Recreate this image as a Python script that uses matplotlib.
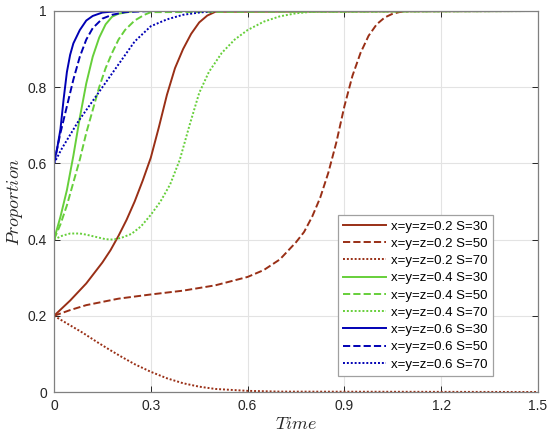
import matplotlib
matplotlib.use("Agg")
import matplotlib.pyplot as plt

plt.rcParams['font.family'] = ['Liberation Sans', 'DejaVu Sans']
plt.rcParams['mathtext.fontset'] = 'cm'

# ---- data ----
t_r30 = [0, 0.05, 0.1, 0.15, 0.175, 0.2, 0.225, 0.25, 0.275, 0.3, 0.325, 0.35,
         0.375, 0.4, 0.425, 0.45, 0.475, 0.5, 1.5]
p_r30 = [0.2, 0.24, 0.285, 0.34, 0.372, 0.41, 0.452, 0.50, 0.555, 0.615, 0.695,
         0.78, 0.85, 0.90, 0.94, 0.97, 0.988, 0.998, 1.0]

t_r50 = [0, 0.05, 0.1, 0.2, 0.3, 0.4, 0.5, 0.6, 0.65, 0.7, 0.75, 0.775, 0.8,
         0.825, 0.85, 0.875, 0.9, 0.925, 0.95, 0.975, 1.0, 1.025, 1.05, 1.075,
         1.1, 1.5]
p_r50 = [0.2, 0.215, 0.228, 0.245, 0.256, 0.266, 0.28, 0.302, 0.32, 0.348,
         0.393, 0.42, 0.46, 0.51, 0.575, 0.655, 0.75, 0.83, 0.89, 0.935, 0.965,
         0.983, 0.993, 0.998, 1.0, 1.0]

t_r70 = [0, 0.03, 0.06, 0.09, 0.13, 0.17, 0.21, 0.25, 0.3, 0.35, 0.4, 0.45,
         0.5, 0.6, 0.7, 1.5]
p_r70 = [0.2, 0.185, 0.17, 0.155, 0.133, 0.112, 0.092, 0.073, 0.053, 0.036,
         0.023, 0.014, 0.008, 0.003, 0.001, 0.0]

t_g30 = [0, 0.02, 0.04, 0.06, 0.08, 0.1, 0.12, 0.14, 0.16, 0.18, 0.2, 0.25, 0.3, 1.5]
p_g30 = [0.40, 0.46, 0.53, 0.62, 0.72, 0.81, 0.88, 0.93, 0.965, 0.985, 0.993, 1.0, 1.0, 1.0]

t_g50 = [0, 0.02, 0.04, 0.06, 0.08, 0.1, 0.12, 0.14, 0.16, 0.18, 0.2, 0.22,
         0.25, 0.28, 0.3, 1.5]
p_g50 = [0.40, 0.44, 0.49, 0.55, 0.61, 0.68, 0.74, 0.80, 0.85, 0.89, 0.925,
         0.95, 0.975, 0.99, 0.997, 1.0]

t_g70 = [0, 0.025, 0.05, 0.08, 0.1, 0.13, 0.16, 0.185, 0.21, 0.24, 0.27, 0.3,
         0.33, 0.36, 0.39, 0.42, 0.45, 0.48, 0.52, 0.56, 0.6, 0.65, 0.7, 0.75,
         0.8, 1.5]
p_g70 = [0.40, 0.41, 0.416, 0.416, 0.413, 0.407, 0.401, 0.40, 0.405, 0.415,
         0.435, 0.465, 0.50, 0.545, 0.61, 0.70, 0.785, 0.84, 0.89, 0.925, 0.95,
         0.972, 0.986, 0.994, 0.998, 1.0]

t_b30 = [0, 0.01, 0.02, 0.03, 0.04, 0.05, 0.06, 0.08, 0.1, 0.12, 0.15, 0.2, 1.5]
p_b30 = [0.6, 0.64, 0.69, 0.77, 0.84, 0.885, 0.915, 0.95, 0.975, 0.987, 0.996, 1.0, 1.0]

t_b50 = [0, 0.01, 0.02, 0.04, 0.06, 0.08, 0.1, 0.12, 0.15, 0.18, 0.22, 0.3, 1.5]
p_b50 = [0.6, 0.64, 0.68, 0.75, 0.82, 0.88, 0.925, 0.955, 0.98, 0.99, 0.997, 1.0, 1.0]

t_b70 = [0, 0.025, 0.05, 0.075, 0.1, 0.15, 0.2, 0.25, 0.3, 0.35, 0.4, 0.45, 0.5, 1.5]
p_b70 = [0.6, 0.64, 0.675, 0.71, 0.74, 0.80, 0.86, 0.92, 0.96, 0.978, 0.99, 0.996, 1.0, 1.0]

labels = ['x=y=z=0.2 S=30', 'x=y=z=0.2 S=50', 'x=y=z=0.2 S=70',
          'x=y=z=0.4 S=30', 'x=y=z=0.4 S=50', 'x=y=z=0.4 S=70',
          'x=y=z=0.6 S=30', 'x=y=z=0.6 S=50', 'x=y=z=0.6 S=70']
xticks = [0, 0.3, 0.6, 0.9, 1.2, 1.5]
xticklabels = ['0', '0.3', '0.6', '0.9', '1.2', '1.5']
yticks = [0, 0.2, 0.4, 0.6, 0.8, 1.0]
yticklabels = ['0', '0.2', '0.4', '0.6', '0.8', '1']

red = '#992f16'
green = '#66cf3a'
blue = '#0000b4'
dot = (0, (1, 1))

fig = plt.figure(figsize=(5.5, 4.38), dpi=100)
ax = fig.add_axes([54/550, 46/438, 484/550, 381/438])

series = [
    (t_r30, p_r30, red, '-'), (t_r50, p_r50, red, '--'), (t_r70, p_r70, red, dot),
    (t_g30, p_g30, green, '-'), (t_g50, p_g50, green, '--'), (t_g70, p_g70, green, dot),
    (t_b30, p_b30, blue, '-'), (t_b50, p_b50, blue, '--'), (t_b70, p_b70, blue, dot),
]
for (t, p, c, ls), lab in zip(series, labels):
    ax.plot(t, p, color=c, linestyle=ls, linewidth=1.4, label=lab)

ax.set_xlim(0, 1.5)
ax.set_ylim(0, 1)
ax.set_xticks(xticks)
ax.set_xticklabels(xticklabels)
ax.set_yticks(yticks)
ax.set_yticklabels(yticklabels)
ax.grid(True, color='#e3e3e3', linewidth=0.8)
ax.set_axisbelow(True)
ax.tick_params(direction='in', length=4, top=True, right=True,
               labelsize=10, colors='#262626', width=0.7, pad=5)
for s in ax.spines.values():
    s.set_color('#808080')
    s.set_linewidth(0.9)

ax.set_xlabel(r'$Time$', fontsize=13, color='#262626', labelpad=2)
ax.set_ylabel(r'$Proportion$', fontsize=13, color='#262626', labelpad=2)

leg = ax.legend(loc='upper left', bbox_to_anchor=(0.587, 0.4646),
                borderaxespad=0, fontsize=9.5, handlelength=3.2,
                handletextpad=0.4, labelspacing=0.38, borderpad=0.4,
                fancybox=False, framealpha=1, edgecolor='#a0a0a0')
leg.get_frame().set_linewidth(0.9)

fig.savefig('out.png', dpi=100)
